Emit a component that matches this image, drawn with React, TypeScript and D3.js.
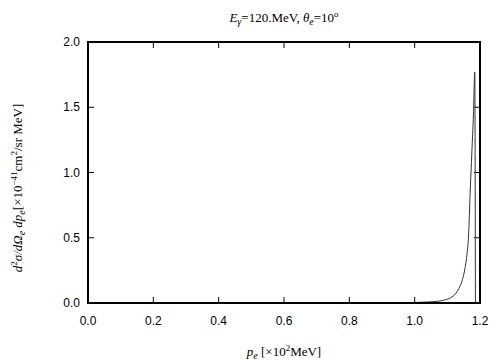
import React, { useEffect, useRef } from 'react'
import * as d3 from 'd3'

// cross section curve, p_e in units of 10^2 MeV
const momentum = [0.0, 0.3, 0.6, 0.9, 0.95, 1.0, 1.04, 1.07, 1.09, 1.11, 1.125, 1.135, 1.145, 1.155, 1.16, 1.165, 1.17, 1.175, 1.18, 1.184, 1.186]
const crossSection = [0.0, 0.0, 0.0, 0.0, 0.001, 0.004, 0.008, 0.013, 0.022, 0.04, 0.07, 0.11, 0.17, 0.28, 0.37, 0.52, 0.85, 1.15, 1.45, 1.77, 0.0]
const xTicks = [0.0, 0.2, 0.4, 0.6, 0.8, 1.0, 1.2]
const yTicks = [0.0, 0.5, 1.0, 1.5, 2.0]

export default function App() {
    const ref = useRef<SVGSVGElement | null>(null)

    const width = 504
    const height = 360
    const left = 88, right = 480, top = 42, bottom = 303

    function draw() {
        const svg = d3.select(ref.current)
        svg.selectAll('*').remove()

        const x = d3.scaleLinear().domain([0, 1.2]).range([left, right])
        const y = d3.scaleLinear().domain([0, 2.0]).range([bottom, top])

        const g = svg.append('g')

        // ticks, pointing inward on all four sides
        xTicks.forEach(t => {
            g.append('line').attr('x1', x(t)).attr('x2', x(t)).attr('y1', bottom).attr('y2', bottom - 6)
                .attr('stroke', '#000').attr('stroke-width', 1)
            g.append('line').attr('x1', x(t)).attr('x2', x(t)).attr('y1', top).attr('y2', top + 6)
                .attr('stroke', '#000').attr('stroke-width', 1)
            g.append('text').attr('x', x(t)).attr('y', bottom + 22)
                .attr('text-anchor', 'middle')
                .style('font-family', '"Liberation Sans", Arial, sans-serif')
                .style('font-size', '12px')
                .text(d3.format('.1f')(t))
        })
        yTicks.forEach(t => {
            g.append('line').attr('x1', left).attr('x2', left + 6).attr('y1', y(t)).attr('y2', y(t))
                .attr('stroke', '#000').attr('stroke-width', 1)
            g.append('line').attr('x1', right).attr('x2', right - 6).attr('y1', y(t)).attr('y2', y(t))
                .attr('stroke', '#000').attr('stroke-width', 1)
            g.append('text').attr('x', left - 8).attr('y', y(t) + 4)
                .attr('text-anchor', 'end')
                .style('font-family', '"Liberation Sans", Arial, sans-serif')
                .style('font-size', '12px')
                .text(d3.format('.1f')(t))
        })

        const pts: [number, number][] = momentum.map((p, i) => [p, crossSection[i]])
        const line = d3.line<[number, number]>()
            .x(d => x(d[0]))
            .y(d => y(d[1]))
            .curve(d3.curveMonotoneX)
        g.append('path').datum(pts).attr('d', line)
            .attr('fill', 'none').attr('stroke', '#333').attr('stroke-width', 1)

        // frame
        g.append('rect').attr('x', left).attr('y', top)
            .attr('width', right - left).attr('height', bottom - top)
            .attr('fill', 'none').attr('stroke', '#000').attr('stroke-width', 2)

        const serif = '"Liberation Serif", "Times New Roman", serif'

        // title
        const title = g.append('text').attr('x', (left + right) / 2).attr('y', 22)
            .attr('text-anchor', 'middle').style('font-family', serif).style('font-size', '13px')
        title.append('tspan').style('font-style', 'italic').text('E')
        title.append('tspan').attr('dy', 3).style('font-size', '10px').style('font-style', 'italic').text('γ')
        title.append('tspan').attr('dy', -3).text('=120.MeV,  ')
        title.append('tspan').style('font-style', 'italic').text('θ')
        title.append('tspan').attr('dy', 3).style('font-size', '10px').style('font-style', 'italic').text('e')
        title.append('tspan').attr('dy', -3).text('=10')
        title.append('tspan').attr('dy', -5).style('font-size', '9px').text('o')

        // x label
        const xl = g.append('text').attr('x', (left + right) / 2).attr('y', 356)
            .attr('text-anchor', 'middle').style('font-family', serif).style('font-size', '13px')
        xl.append('tspan').style('font-style', 'italic').text('p')
        xl.append('tspan').attr('dy', 3).style('font-size', '10px').style('font-style', 'italic').text('e')
        xl.append('tspan').attr('dy', -3).text(' [×10')
        xl.append('tspan').attr('dy', -5).style('font-size', '9px').text('2')
        xl.append('tspan').attr('dy', 5).text('MeV]')

        // y label
        const yl = g.append('text').attr('transform', 'translate(22,188) rotate(-90)')
            .attr('text-anchor', 'middle').style('font-family', serif).style('font-size', '13px')
        yl.append('tspan').style('font-style', 'italic').text('d')
        yl.append('tspan').attr('dy', -5).style('font-size', '9px').text('2')
        yl.append('tspan').attr('dy', 5).style('font-style', 'italic').text('σ/dΩ')
        yl.append('tspan').attr('dy', 3).style('font-size', '10px').style('font-style', 'italic').text('e')
        yl.append('tspan').attr('dy', -3).style('font-style', 'italic').text(' dp')
        yl.append('tspan').attr('dy', 3).style('font-size', '10px').style('font-style', 'italic').text('e')
        yl.append('tspan').attr('dy', -3).text('[×10')
        yl.append('tspan').attr('dy', -5).style('font-size', '9px').text('−41')
        yl.append('tspan').attr('dy', 5).text('cm')
        yl.append('tspan').attr('dy', -5).style('font-size', '9px').text('2')
        yl.append('tspan').attr('dy', 5).text('/sr MeV]')
    }

    useEffect(() => {
        draw()
    }, [])

    return (
        <div style={{ position: 'absolute', left: 0, top: 0 }}>
            <svg ref={ref} width={width} height={height} style={{ display: 'block', background: '#fff' }} />
        </div>
    )
}
